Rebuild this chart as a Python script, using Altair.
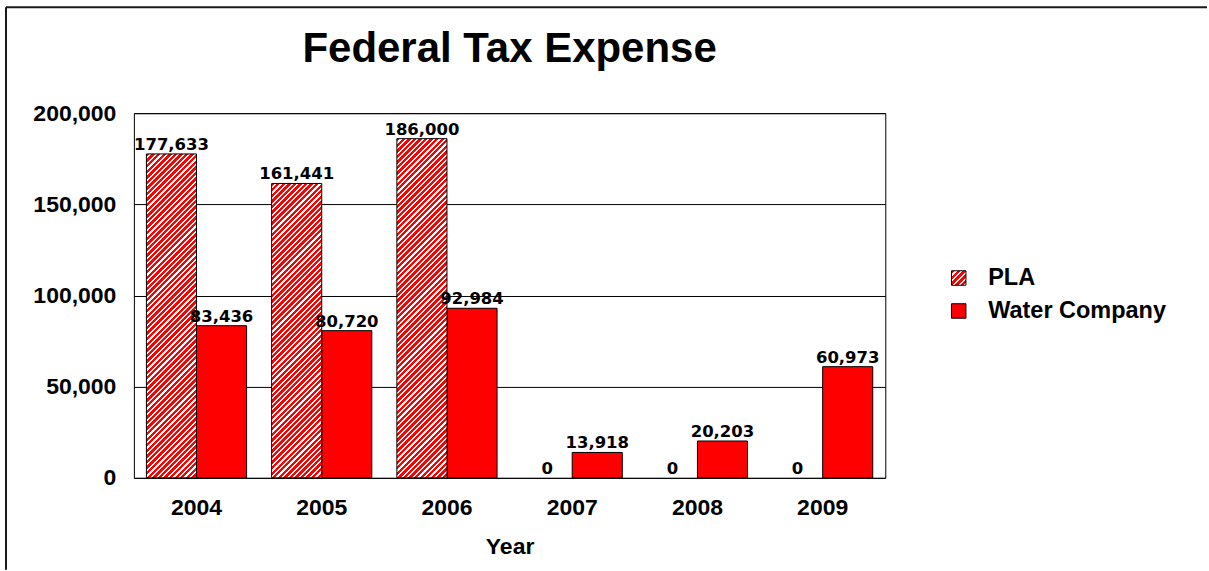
import altair as alt
import pandas as pd

# ---- data ----
years = ["2004", "2005", "2006", "2007", "2008", "2009"]
series = ["PLA", "Water Company"]
pla = [177633, 161441, 186000, 0, 0, 0]
water = [83436, 80720, 92984, 13918, 20203, 60973]
y_ticks = [0, 50000, 100000, 150000, 200000]

RED = "#ff0000"
W_PLOT, H_PLOT = 752, 365
Y_MAX = 200000
PAD_IN, PAD_OUT = 0.2, 0.1
SPACING = 60

rows = []
for i, yr in enumerate(years):
    rows.append({"year": yr, "series": "PLA", "value": pla[i]})
    rows.append({"year": yr, "series": "Water Company", "value": water[i]})
df = pd.DataFrame(rows)
legend_df = pd.DataFrame({"series": series})
frame_df = pd.DataFrame({"f": [0]})

step = W_PLOT / (len(years) - PAD_IN + 2 * PAD_OUT)
bar_w = step * (1 - PAD_IN) / len(series)


def hatch(w, h, period=5.6, frac=0.6):
    """Diagonal '/' stripes as a linear gradient in bounding-box units."""
    k = h / w
    a = (1 + k) / (1 + k * k)
    n = max(1, round((w + h) / period))
    stops = []
    for i in range(n):
        o0, o1, o2 = i / n, (i + frac) / n, (i + 1) / n
        stops += [
            {"offset": o0, "color": RED},
            {"offset": o1, "color": RED},
            {"offset": o1, "color": "#ffffff"},
            {"offset": o2, "color": "#ffffff"},
        ]
    return alt.LinearGradient(gradient="linear", x1=0, y1=0, x2=a, y2=a * k, stops=stops)


x_enc = alt.X(
    "year:N",
    scale=alt.Scale(domain=years, paddingInner=PAD_IN, paddingOuter=PAD_OUT),
    axis=alt.Axis(
        title="Year", labelAngle=0, ticks=False, tickSize=0, domain=False,
        labelPadding=19, titlePadding=16,
    ),
)
xo_enc = alt.XOffset("series:N", scale=alt.Scale(domain=series, paddingInner=0, paddingOuter=0))
y_enc = alt.Y(
    "value:Q",
    scale=alt.Scale(domain=[0, Y_MAX], nice=False),
    axis=alt.Axis(
        title=None, values=y_ticks, format=",.0f", ticks=False, tickSize=0, domain=False,
        labelPadding=18, grid=True, gridColor="#000000", gridOpacity=1, gridWidth=1,
    ),
)

base = alt.Chart(df)

water_bars = base.transform_filter("datum.series == 'Water Company'").mark_bar(
    fill=RED, stroke="#000000", strokeWidth=1
).encode(x=x_enc, xOffset=xo_enc, y=y_enc)

pla_layers = []
for i, yr in enumerate(years):
    if pla[i] <= 0:
        continue
    h = pla[i] / Y_MAX * H_PLOT
    pla_layers.append(
        base.transform_filter(f"datum.series == 'PLA' && datum.year == '{yr}'")
        .mark_bar(fill=hatch(bar_w, h), stroke="#000000", strokeWidth=1)
        .encode(x=x_enc, xOffset=xo_enc, y=y_enc)
    )

labels = base.mark_text(
    font="DejaVu Sans", fontWeight="bold", fontSize=16.5, color="#000000",
    baseline="alphabetic", dy=-4,
).encode(x=x_enc, xOffset=xo_enc, y=y_enc, text=alt.Text("value:Q", format=",.0f"))

main = alt.layer(water_bars, *pla_layers, labels).properties(
    width=W_PLOT,
    height=H_PLOT,
    title=alt.Title(
        "Federal Tax Expense", font="Liberation Sans", fontSize=42, fontWeight="bold",
        color="#000000", anchor="middle", frame="group", baseline="alphabetic", offset=-2,
    ),
    view=alt.ViewBackground(stroke="#000000", strokeWidth=1),
)

# legend panel (to the right of the plot)
leg_y = alt.Y("series:N", axis=None, scale=alt.Scale(type="point", domain=series, range=[165, 198], padding=0))
leg_base = alt.Chart(legend_df)
leg_pla = leg_base.transform_filter("datum.series == 'PLA'").mark_square(
    size=210, fill=hatch(14.5, 14.5, period=5.6), stroke="#000000", strokeWidth=1, opacity=1
).encode(x=alt.value(13.5), y=leg_y)
leg_water = leg_base.transform_filter("datum.series == 'Water Company'").mark_square(
    size=210, fill=RED, stroke="#000000", strokeWidth=1, opacity=1
).encode(x=alt.value(13.5), y=leg_y)
leg_text = leg_base.mark_text(
    align="left", baseline="middle", font="Liberation Sans", fontWeight="bold",
    fontSize=23.5, color="#000000",
).encode(x=alt.value(43), y=leg_y, text="series:N")

# outer picture frame (top and left edges), relative to the legend panel origin
off = -(W_PLOT + SPACING) - 128
frame_top = alt.Chart(frame_df).mark_rule(color="#1a1a1a", strokeWidth=2).encode(
    x=alt.value(off), x2=alt.value(off + 1202), y=alt.value(-106)
)
frame_left = alt.Chart(frame_df).mark_rule(color="#1a1a1a", strokeWidth=2).encode(
    x=alt.value(off), y=alt.value(-106), y2=alt.value(457)
)

legend = alt.layer(leg_pla, leg_water, leg_text, frame_top, frame_left).properties(width=230, height=H_PLOT)

chart = (
    alt.hconcat(main, legend, spacing=SPACING, bounds="flush")
    .properties(padding={"left": 4, "top": 5, "right": 0, "bottom": 0}, background="#ffffff")
    .configure_view(stroke="transparent")
    .configure_axis(
        labelFont="Liberation Sans", labelFontWeight="bold", labelFontSize=23, labelColor="#000000",
        titleFont="Liberation Sans", titleFontWeight="bold", titleFontSize=23, titleColor="#000000",
    )
)

chart.save("out.html", embed_options={"renderer": "svg", "actions": False})
